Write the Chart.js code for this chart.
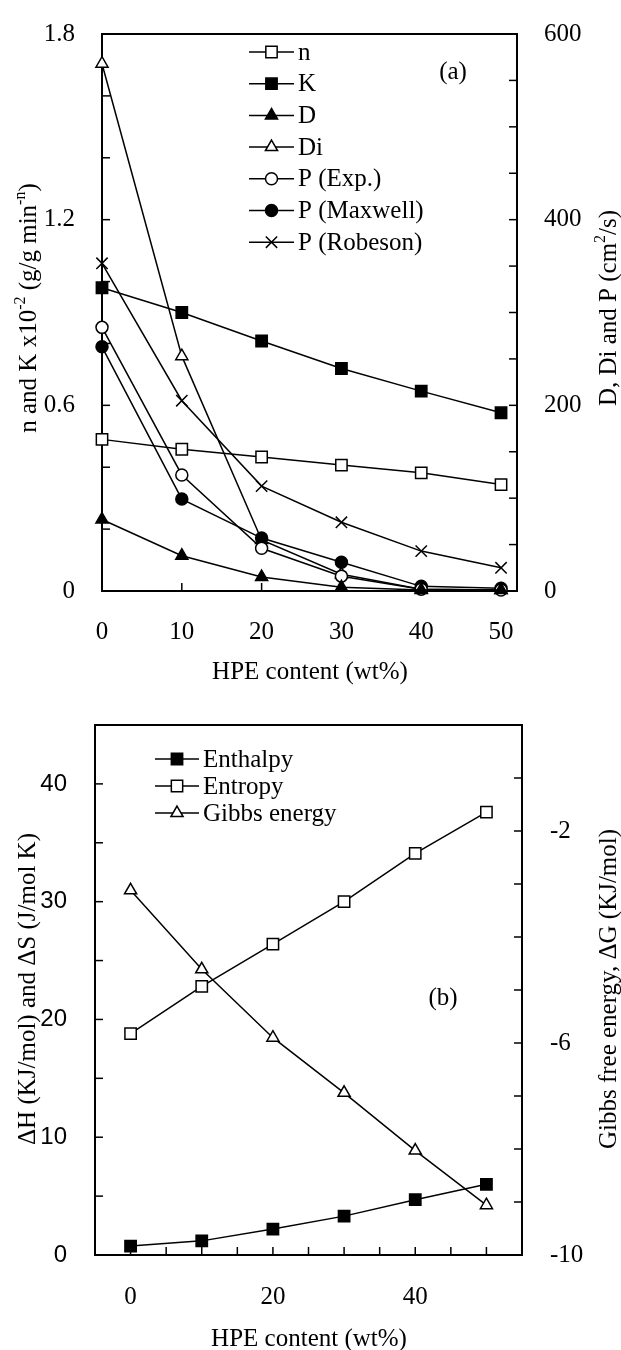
<!DOCTYPE html>
<html>
<head>
<meta charset="utf-8">
<title>HPE content</title>
<script src="https://cdn.jsdelivr.net/npm/chart.js@4.4.1/dist/chart.umd.min.js"></script>
<style>
  body { margin: 0; background: #fff; }
  canvas { display: block; }
</style>
</head>
<body>
<canvas id="chartA" width="621" height="690"></canvas>
<canvas id="chartB" width="621" height="660"></canvas>
<script>
// --- values ---
const hpe = [0, 10, 20, 30, 40, 50];

// (a) left axis: n and K x10^-2
const nValues = [0.49, 0.458, 0.433, 0.407, 0.382, 0.344];
const kValues = [0.98, 0.90, 0.808, 0.719, 0.646, 0.576];
// (a) right axis: D, Di and P (cm2/s)
const dValues = [77, 38, 15, 4, 1, 1];
const diValues = [568, 253, 55, 18, 2, 1];
const pExp = [284, 125, 46, 16, 2, 1];
const pMaxwell = [263, 99, 57, 31, 5, 3];
const pRobeson = [353, 205, 113, 74, 43, 25];

// (b)
const enthalpy = [0.76, 1.2, 2.2, 3.3, 4.7, 6.0];
const entropy = [18.8, 22.8, 26.4, 30.0, 34.1, 37.6];
const gibbs = [-3.12, -4.61, -5.90, -6.94, -8.03, -9.06];

// ticks and labels
const aXTicks = [0, 10, 20, 30, 40, 50];
const aLeftTicks = [0, 0.2, 0.4, 0.6, 0.8, 1.0, 1.2, 1.4, 1.6, 1.8];
const aLeftLabels = [0, 0.6, 1.2, 1.8];
const aRightTicks = [0, 50, 100, 150, 200, 250, 300, 350, 400, 450, 500, 550, 600];
const aRightLabels = [0, 200, 400, 600];
const bXTicks = [0, 5, 10, 15, 20, 25, 30, 35, 40, 45, 50];
const bXLabels = [0, 20, 40];
const bLeftTicks = [0, 5, 10, 15, 20, 25, 30, 35, 40, 45];
const bLeftLabels = [0, 10, 20, 30, 40];
const bRightTicks = [-10, -9, -8, -7, -6, -5, -4, -3, -2, -1, 0];
const bRightLabels = [-10, -6, -2];

const SERIF = "'Liberation Serif', 'Times New Roman', serif";
const SANS = "'Liberation Sans', Arial, sans-serif";

function series(label, values, axis, style, filled, radius) {
    return {
        label: label,
        data: hpe.map((x, i) => ({ x: x, y: values[i] })),
        yAxisID: axis,
        pointStyle: style,
        pointRadius: radius,
        pointBackgroundColor: filled ? '#000' : '#fff',
        pointBorderColor: '#000',
        pointBorderWidth: 1.5,
        borderColor: '#000',
        borderWidth: 1.5,
        tension: 0,
        clip: false
    };
}

function fixedTicks(list) {
    return scale => { scale.ticks = list.map(v => ({ value: v })); };
}

// text with superscript parts, centred on (x, y)
function drawRich(ctx, parts, x, y, rot, size) {
    const big = size + 'px ' + SERIF;
    const small = Math.round(size * 0.62) + 'px ' + SERIF;
    ctx.save();
    ctx.translate(x, y);
    ctx.rotate(rot);
    ctx.fillStyle = '#000';
    ctx.textBaseline = 'alphabetic';
    ctx.textAlign = 'left';
    let w = 0;
    parts.forEach(p => {
        ctx.font = p.sup ? small : big;
        w += ctx.measureText(p.t).width;
    });
    let cx = -w / 2;
    const base = size * 0.34;
    parts.forEach(p => {
        ctx.font = p.sup ? small : big;
        ctx.fillText(p.t, cx, p.sup ? base - size * 0.42 : base);
        cx += ctx.measureText(p.t).width;
    });
    ctx.restore();
}

const figureDecor = {
    id: 'figureDecor',
    beforeDatasetsDraw(chart) {
        const ctx = chart.ctx;
        const a = chart.chartArea;
        ctx.save();
        ctx.strokeStyle = '#000';
        ctx.lineWidth = 2;
        ctx.strokeRect(a.left, a.top, a.right - a.left, a.bottom - a.top);
        ctx.lineWidth = 1.5;
        Object.values(chart.scales).forEach(s => {
            s.ticks.forEach(t => {
                const p = s.getPixelForValue(t.value);
                ctx.beginPath();
                if (s.axis === 'x') {
                    if (p <= a.left + 1 || p >= a.right - 1) return;
                    ctx.moveTo(p, a.bottom);
                    ctx.lineTo(p, a.bottom - 8);
                } else if (s.position === 'left') {
                    if (p <= a.top + 1 || p >= a.bottom - 1) return;
                    ctx.moveTo(a.left, p);
                    ctx.lineTo(a.left + 8, p);
                } else {
                    if (p <= a.top + 1 || p >= a.bottom - 1) return;
                    ctx.moveTo(a.right, p);
                    ctx.lineTo(a.right - 8, p);
                }
                ctx.stroke();
            });
        });
        ctx.restore();
    },
    afterDraw(chart, args, opts) {
        const ctx = chart.ctx;
        const lg = opts.legend;
        ctx.save();
        // legend
        chart.data.datasets.forEach((ds, i) => {
            const y = lg.y + i * lg.step;
            ctx.strokeStyle = '#000';
            ctx.lineWidth = 1.5;
            ctx.beginPath();
            ctx.moveTo(lg.x, y);
            ctx.lineTo(lg.x + lg.len, y);
            ctx.stroke();
            ctx.fillStyle = ds.pointBackgroundColor;
            Chart.helpers.drawPoint(ctx, {
                pointStyle: ds.pointStyle,
                rotation: 0,
                radius: ds.pointRadius,
                borderWidth: 1.5
            }, lg.x + lg.len / 2, y);
            ctx.fillStyle = '#000';
            ctx.font = lg.size + 'px ' + SERIF;
            ctx.textBaseline = 'middle';
            ctx.textAlign = 'left';
            ctx.fillText(ds.label, lg.x + lg.len + 4, y + 1);
        });
        // panel tag
        ctx.font = '25px ' + SERIF;
        ctx.textAlign = 'center';
        ctx.textBaseline = 'middle';
        ctx.fillText(opts.tag.text, opts.tag.x, opts.tag.y);
        ctx.restore();
        // axis titles
        opts.titles.forEach(t => drawRich(ctx, t.parts, t.x, t.y, t.rot, 25));
    }
};

const serifTicks = (padding, labels, fmt) => ({
    autoSkip: false,
    maxRotation: 0,
    padding: padding,
    color: '#000',
    font: { family: SERIF, size: 25 },
    callback: v => labels.includes(v) ? fmt(v) : ''
});

// Di goes underneath the other curves (its marks at 20 and 30 sit behind the circles)
const diSeries = series('Di', diValues, 'y2', 'triangle', false, 7);
diSeries.order = 1;

// --- (a) ---
new Chart(document.getElementById('chartA'), {
    type: 'line',
    data: {
        datasets: [
            series('n', nValues, 'y', 'rect', false, 8),
            series('K', kValues, 'y', 'rect', true, 8),
            series('D', dValues, 'y2', 'triangle', true, 7),
            diSeries,
            series('P (Exp.)', pExp, 'y2', 'circle', false, 6),
            series('P (Maxwell)', pMaxwell, 'y2', 'circle', true, 6),
            series('P (Robeson)', pRobeson, 'y2', 'crossRot', false, 8)
        ]
    },
    options: {
        responsive: false,
        animation: false,
        layout: { padding: { top: 25 } },
        plugins: {
            legend: { display: false },
            tooltip: { enabled: false },
            figureDecor: {
                legend: { x: 249, y: 52, step: 31.7, len: 45, size: 25 },
                tag: { text: '(a)', x: 453, y: 72 },
                titles: [
                    { parts: [{ t: 'n and K x10' }, { t: '-2', sup: true }, { t: ' (g/g min' }, { t: '-n', sup: true }, { t: ')' }],
                      x: 27, y: 308, rot: -Math.PI / 2 },
                    { parts: [{ t: 'D, Di and P (cm' }, { t: '2', sup: true }, { t: '/s)' }],
                      x: 607, y: 308, rot: -Math.PI / 2 },
                    { parts: [{ t: 'HPE content (wt%)' }], x: 310, y: 670, rot: 0 }
                ]
            }
        },
        scales: {
            x: {
                type: 'linear', min: 0, max: 52,
                afterBuildTicks: fixedTicks(aXTicks),
                afterFit: s => { s.height = 99; },
                grid: { display: false }, border: { display: false },
                ticks: serifTicks(18, aXTicks, v => String(v))
            },
            y: {
                position: 'left', min: 0, max: 1.8,
                afterBuildTicks: fixedTicks(aLeftTicks),
                afterFit: s => { s.width = 102; },
                grid: { display: false }, border: { display: false },
                ticks: serifTicks(19, aLeftLabels, v => v === 0 ? '0' : v.toFixed(1))
            },
            y2: {
                position: 'right', min: 0, max: 600,
                afterBuildTicks: fixedTicks(aRightTicks),
                afterFit: s => { s.width = 104; },
                grid: { display: false }, border: { display: false },
                ticks: serifTicks(19, aRightLabels, v => String(v))
            }
        }
    },
    plugins: [figureDecor]
});

// --- (b) ---
new Chart(document.getElementById('chartB'), {
    type: 'line',
    data: {
        datasets: [
            series('Enthalpy', enthalpy, 'y', 'rect', true, 8),
            series('Entropy', entropy, 'y', 'rect', false, 8),
            series('Gibbs energy', gibbs, 'y2', 'triangle', false, 7)
        ]
    },
    options: {
        responsive: false,
        animation: false,
        layout: { padding: { top: 33 } },
        plugins: {
            legend: { display: false },
            tooltip: { enabled: false },
            figureDecor: {
                legend: { x: 155, y: 69, step: 27, len: 44, size: 25 },
                tag: { text: '(b)', x: 443, y: 308 },
                titles: [
                    { parts: [{ t: '\u0394H (KJ/mol) and \u0394S (J/mol K)' }], x: 26, y: 299, rot: -Math.PI / 2 },
                    { parts: [{ t: 'Gibbs free energy, \u0394G (KJ/mol)' }], x: 607, y: 299, rot: -Math.PI / 2 },
                    { parts: [{ t: 'HPE content (wt%)' }], x: 309, y: 647, rot: 0 }
                ]
            }
        },
        scales: {
            x: {
                type: 'linear', min: -5, max: 55,
                afterBuildTicks: fixedTicks(bXTicks),
                afterFit: s => { s.height = 95; },
                grid: { display: false }, border: { display: false },
                ticks: serifTicks(19, bXLabels, v => String(v))
            },
            y: {
                position: 'left', min: 0, max: 45,
                afterBuildTicks: fixedTicks(bLeftTicks),
                afterFit: s => { s.width = 95; },
                grid: { display: false }, border: { display: false },
                ticks: {
                    autoSkip: false,
                    padding: 20,
                    color: '#000',
                    font: { family: SANS, size: 24 },
                    callback: v => bLeftLabels.includes(v) ? String(v) : ''
                }
            },
            y2: {
                position: 'right', min: -10, max: 0,
                afterBuildTicks: fixedTicks(bRightTicks),
                afterFit: s => { s.width = 99; },
                grid: { display: false }, border: { display: false },
                ticks: serifTicks(20, bRightLabels, v => String(v))
            }
        }
    },
    plugins: [figureDecor]
});
</script>
</body>
</html>
